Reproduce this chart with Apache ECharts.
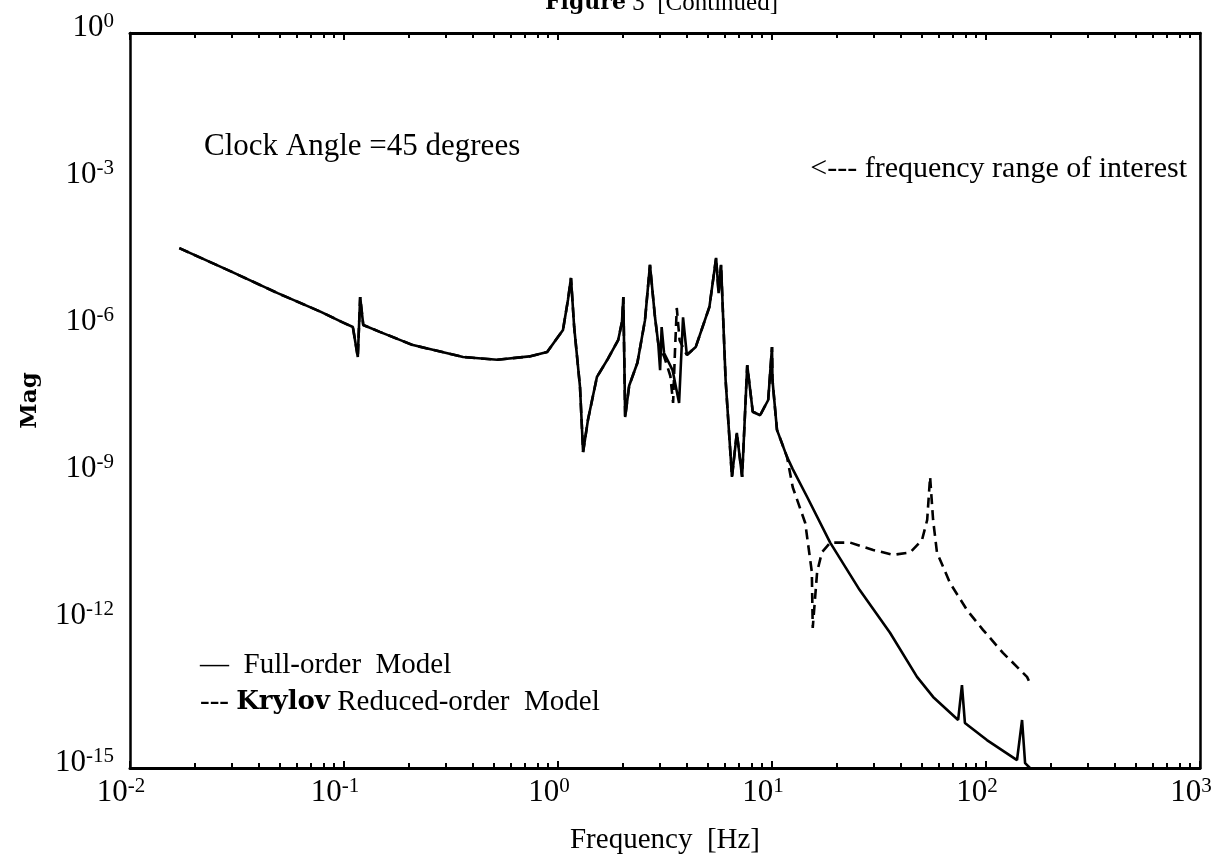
<!DOCTYPE html>
<html><head><meta charset="utf-8">
<script src="https://cdn.jsdelivr.net/npm/echarts@6/dist/echarts.min.js"></script>
<style>html,body{margin:0;padding:0;background:#fff}#chart{width:1218px;height:868px}</style>
</head><body><div id="chart"></div>
<script>
// Frequencies [Hz] and magnitudes
const fullFreq = [0.0170, 0.0294, 0.049, 0.078, 0.098, 0.110, 0.116, 0.119, 0.123, 0.147, 0.21, 0.36, 0.52, 0.735, 0.89, 1.055, 1.113, 1.15, 1.19, 1.267, 1.31, 1.38, 1.52, 1.71, 1.91, 1.99, 2.02, 2.06, 2.15, 2.35, 2.55, 2.69, 2.84, 2.94, 3.0, 3.05, 3.13, 3.43, 3.68, 3.84, 4.0, 4.4, 5.1, 5.48, 5.63, 5.78, 6.07, 6.5, 6.85, 7.25, 7.66, 8.13, 8.8, 9.6, 10.0, 10.05, 10.55, 11.75, 12.5, 14.6, 18.7, 25.7, 35.6, 47.6, 56.6, 74.1, 77.2, 79.7, 101, 139.6, 147.4, 152.3, 160.5];
const fullMag = [4.07e-5, 1.38e-5, 4.9e-6, 2.04e-6, 1.26e-6, 1.0e-6, 2.45e-7, 4.07e-6, 1.1e-6, 7.94e-7, 4.27e-7, 2.45e-7, 2.14e-7, 2.51e-7, 3.09e-7, 8.7e-7, 3.55e-6, 1.0e-5, 1.0e-6, 6.03e-8, 2.82e-9, 1.26e-8, 9.55e-8, 2.24e-7, 5.37e-7, 1.26e-6, 4.07e-6, 1.45e-8, 6.31e-8, 1.86e-7, 1.38e-6, 1.86e-5, 1.58e-6, 4.68e-7, 1.32e-7, 1.0e-6, 2.95e-7, 1.32e-7, 2.82e-8, 1.58e-6, 2.69e-7, 3.89e-7, 2.57e-6, 2.57e-5, 4.9e-6, 1.86e-5, 8.32e-8, 8.71e-10, 6.92e-9, 8.71e-10, 1.66e-7, 1.86e-8, 1.58e-8, 3.24e-8, 3.89e-7, 8.32e-8, 7.94e-9, 2.24e-9, 1.26e-9, 3.39e-10, 3.98e-11, 4.27e-12, 5.75e-13, 7.24e-14, 2.82e-14, 9.55e-15, 4.9e-14, 8.32e-15, 3.72e-15, 1.45e-15, 9.55e-15, 1.26e-15, 1.0e-15];

const krylovFreq = [0.0170, 0.0294, 0.049, 0.078, 0.098, 0.110, 0.116, 0.119, 0.123, 0.147, 0.21, 0.36, 0.52, 0.735, 0.89, 1.055, 1.113, 1.15, 1.19, 1.267, 1.31, 1.38, 1.52, 1.71, 1.91, 1.99, 2.02, 2.06, 2.15, 2.35, 2.55, 2.69, 2.84, 2.94, 3.13, 3.35, 3.45, 3.52, 3.59, 3.7, 3.92, 4.0, 4.4, 5.1, 5.48, 5.63, 5.78, 6.07, 6.5, 6.85, 7.25, 7.66, 8.13, 8.8, 9.6, 10.0, 10.05, 10.55, 11.75, 12.5, 14.3, 15.35, 15.5, 16.25, 17.1, 18.7, 23.2, 29.7, 36.8, 44.2, 50.2, 53.1, 54.8, 56.6, 59.0, 67.8, 81.6, 96.8, 120, 155.5, 160.5];
const krylovMag = [4.07e-5, 1.38e-5, 4.9e-6, 2.04e-6, 1.26e-6, 1.0e-6, 2.45e-7, 4.07e-6, 1.1e-6, 7.94e-7, 4.27e-7, 2.45e-7, 2.14e-7, 2.51e-7, 3.09e-7, 8.7e-7, 3.55e-6, 1.0e-5, 1.0e-6, 6.03e-8, 2.82e-9, 1.26e-8, 9.55e-8, 2.24e-7, 5.37e-7, 1.26e-6, 4.07e-6, 1.45e-8, 6.31e-8, 1.86e-7, 1.38e-6, 1.86e-5, 1.58e-6, 4.68e-7, 2.51e-7, 1.0e-7, 2.82e-8, 3.16e-7, 2.45e-6, 5.37e-7, 3.16e-7, 2.69e-7, 3.89e-7, 2.57e-6, 2.57e-5, 4.9e-6, 1.86e-5, 8.32e-8, 8.71e-10, 6.92e-9, 8.71e-10, 1.66e-7, 1.86e-8, 1.58e-8, 3.24e-8, 3.89e-7, 8.32e-8, 7.94e-9, 2.24e-9, 5.37e-10, 1.0e-10, 1.0e-11, 7.24e-13, 1.0e-11, 2.51e-11, 3.98e-11, 3.98e-11, 2.82e-11, 2.24e-11, 2.51e-11, 4.47e-11, 1.15e-10, 8.71e-10, 1.15e-10, 2.51e-11, 6.03e-12, 1.66e-12, 6.61e-13, 2.24e-13, 7.24e-14, 5.37e-14];

const seriesNames = ['Full-order Model', 'Krylov Reduced-order Model'];
const yLabelExponents = [0, -3, -6, -9, -12, -15];
const xLabelExponents = [-2, -1, 0, 1, 2, 3];

const SERIF = '"Liberation Serif", "Times New Roman", serif';
const supRich = {
  b: { fontFamily: SERIF, fontSize: 31, lineHeight: 34, color: '#000' },
  s: { fontFamily: SERIF, fontSize: 21, lineHeight: 18, verticalAlign: 'top', color: '#000' }
};
function expOf(v) { return Math.round(Math.log10(v)); }
function powLabel(list) {
  return function (v) {
    const e = expOf(v);
    if (list.indexOf(e) < 0) return '';
    return '{b|10}{s|' + e + '}';
  };
}

const chart = echarts.init(document.getElementById('chart'), null, { renderer: 'canvas' });
chart.setOption({
  animation: false,
  backgroundColor: '#fff',
  grid: { left: 130, right: 18, top: 33, bottom: 100, containLabel: false },
  title: [
    { text: '{f|Figure} 3  [Continued]', left: 545, top: -9, padding: 0,
      textStyle: { fontFamily: SERIF, fontSize: 25, fontWeight: 'normal', color: '#000',
        rich: { f: { fontFamily: '"DejaVu Serif", serif', fontWeight: 'bold', fontSize: 22, color: '#000' } } } },
    { text: 'Clock Angle =45 degrees', left: 204, top: 131, padding: 0,
      textStyle: { fontFamily: SERIF, fontSize: 31, fontWeight: 'normal', color: '#000' } },
    { text: '<--- frequency range of interest', right: 31, top: 154, padding: 0,
      textStyle: { fontFamily: SERIF, fontSize: 30, fontWeight: 'normal', color: '#000' } }
  ],
  legend: {
    orient: 'vertical', left: 190, top: 646, itemGap: 8, icon: 'none', itemWidth: 0, itemHeight: 0,
    selectedMode: false, data: seriesNames,
    formatter: function (name) {
      return name === seriesNames[0] ? '—  Full-order  Model' : '--- {k|Krylov} Reduced-order  Model';
    },
    textStyle: { fontFamily: SERIF, fontSize: 29, color: '#000',
      rich: { k: { fontFamily: '"DejaVu Serif", serif', fontWeight: 'bold', fontSize: 26, color: '#000' } } }
  },
  xAxis: [
    { type: 'log', logBase: 10, min: 0.01, max: 1000, position: 'bottom',
      axisLine: { show: true, onZero: false, lineStyle: { color: '#000', width: 3 } },
      axisTick: { show: true, inside: true, length: 7, lineStyle: { color: '#000', width: 2 } },
      minorTick: { show: true, splitNumber: 9, length: 5, lineStyle: { color: '#000', width: 2 } },
      splitLine: { show: false }, minorSplitLine: { show: false },
      axisLabel: { formatter: powLabel(xLabelExponents), rich: supRich, margin: 8, padding: [0, 18, 0, 0] },
      name: 'Frequency  [Hz]', nameLocation: 'middle', nameGap: 58,
      nameTextStyle: { fontFamily: SERIF, fontSize: 29, color: '#000' } },
    { type: 'log', logBase: 10, min: 0.01, max: 1000, position: 'top',
      axisLine: { show: true, onZero: false, lineStyle: { color: '#000', width: 3 } },
      axisTick: { show: true, inside: true, length: 7, lineStyle: { color: '#000', width: 2 } },
      minorTick: { show: true, splitNumber: 9, length: 5, lineStyle: { color: '#000', width: 2 } },
      splitLine: { show: false }, minorSplitLine: { show: false },
      axisLabel: { show: false } }
  ],
  yAxis: [
    { type: 'log', logBase: 10, min: 1e-15, max: 1, interval: 3, splitNumber: 15, position: 'left',
      axisLine: { show: true, onZero: false, lineStyle: { color: '#000', width: 2.5 } },
      axisTick: { show: false }, splitLine: { show: false },
      axisLabel: { formatter: powLabel(yLabelExponents), rich: supRich, margin: 16, padding: [0, 0, 10, 0] },
      name: 'Mag', nameLocation: 'middle', nameGap: 88,
      nameTextStyle: { fontFamily: '"DejaVu Serif", serif', fontWeight: 'bold', fontSize: 23, color: '#000' } },
    { type: 'log', logBase: 10, min: 1e-15, max: 1, position: 'right',
      axisLine: { show: true, onZero: false, lineStyle: { color: '#000', width: 2.5 } },
      axisTick: { show: false }, splitLine: { show: false }, axisLabel: { show: false } }
  ],
  series: [
    { name: seriesNames[1], type: 'line', showSymbol: false, symbol: 'none', z: 2,
      data: krylovFreq.map((f, i) => [f, krylovMag[i]]),
      lineStyle: { color: '#000', width: 2.6, type: [10, 6] } },
    { name: seriesNames[0], type: 'line', showSymbol: false, symbol: 'none', z: 3,
      data: fullFreq.map((f, i) => [f, fullMag[i]]),
      lineStyle: { color: '#000', width: 2.6, type: 'solid' } }
  ]
});
</script></body></html>
